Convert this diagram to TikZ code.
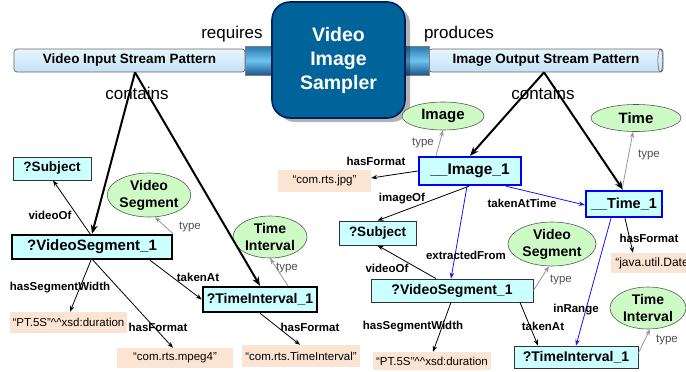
\documentclass[tikz,border=0pt]{standalone}
\usepackage{fontspec}
\setmainfont{Liberation Sans}
\usetikzlibrary{arrows.meta,shapes.geometric,shadows}

\definecolor{boxfill}{RGB}{204,255,255}
\definecolor{ellfill}{RGB}{206,250,198}
\definecolor{litfill}{RGB}{252,228,210}
\definecolor{boxblue}{RGB}{0,0,255}
\definecolor{linkblue}{RGB}{20,20,240}
\definecolor{typegray}{RGB}{150,150,150}
\definecolor{typetext}{RGB}{80,80,80}
\definecolor{blockfill}{RGB}{0,100,155}
\definecolor{blockedge}{RGB}{0,30,95}
\definecolor{bartop}{RGB}{232,245,253}
\definecolor{barbot}{RGB}{196,226,247}
\definecolor{conntop}{RGB}{40,120,175}
\definecolor{connmid}{RGB}{110,196,240}
\definecolor{connbot}{RGB}{25,90,140}

\begin{document}
\begin{tikzpicture}[x=1pt,y=-1pt,
  rbox/.style={rectangle, draw=black!80, line width=0.8pt, fill=boxfill, inner sep=0pt,
    font=\bfseries\fontsize{13.5}{15}\selectfont},
  thickbox/.style={rbox, draw=black, line width=2.4pt},
  bluebox/.style={rbox, draw=boxblue, line width=2.4pt},
  cls/.style={ellipse, draw=black!65, line width=0.6pt, fill=ellfill, inner sep=0pt,
    align=center, font=\bfseries\fontsize{14}{17}\selectfont},
  lit/.style={rectangle, fill=litfill, inner sep=0pt, font=\fontsize{11.5}{13}\selectfont},
  elab/.style={inner sep=0pt, font=\bfseries\fontsize{11.5}{13}\selectfont},
  tlab/.style={inner sep=0pt, text=typetext, font=\fontsize{11.5}{13}\selectfont},
  vlab/.style={inner sep=0pt, font=\fontsize{17}{19}\selectfont},
  barnode/.style={rectangle, draw=black!60, line width=0.7pt, rounded corners=3pt,
    top color=bartop, bottom color=barbot, inner sep=0pt,
    font=\bfseries\fontsize{13.5}{15}\selectfont},
  connnode/.style={rectangle, draw=black!50, line width=0.5pt,
    top color=conntop, bottom color=connbot, middle color=connmid, inner sep=0pt},
  arr/.style={-{Stealth[length=6pt,width=4.5pt]}, line width=0.8pt, draw=black},
  garr/.style={arr, draw=typegray},
  barr/.style={arr, draw=linkblue},
  carr/.style={-{Stealth[length=9pt,width=7pt]}, line width=2pt, draw=black}
]
\useasboundingbox (0,0) rectangle (686,372);

% stream pattern bars and their couplings
\node[barnode, minimum width=231pt, minimum height=23pt] (barL) at (129.5,60.5) {Video Input Stream Pattern};
\node[barnode, minimum width=234pt, minimum height=23pt] (barR) at (546,60.5) {Image Output Stream Pattern};
\draw[black!60, line width=0.6pt] ([xshift=-3pt]barR.east) ellipse (2.5pt and 11.5pt);
\node[connnode, minimum width=31pt, minimum height=29pt] (connL) at (260.5,60.5) {};
\node[connnode, minimum width=28pt, minimum height=29pt] (connR) at (415,60.5) {};

% the service block
\node[rectangle, rounded corners=18pt, draw=blockedge, line width=1.6pt, fill=blockfill,
  minimum width=133pt, minimum height=116pt, align=center, text=white,
  font=\bfseries\fontsize{19.5}{24}\selectfont,
  drop shadow={shadow xshift=5pt, shadow yshift=-4pt, fill=black, opacity=0.3}]
  (sampler) at (338.5,60) {Video\\Image\\Sampler};

\node[vlab] (reqLab) at (232,34) {requires};
\node[vlab] (prodLab) at (459,34) {produces};
\node[vlab] (contL) at (137,93) {contains};
\node[vlab] (contR) at (543,93) {contains};
\coordinate (apexL) at ([xshift=5.5pt]barL.south);
\coordinate (apexR) at ([xshift=-2pt]barR.south);

% input pattern graph
\node[rbox, minimum width=78pt, minimum height=23pt] (subjL) at (52,168.5) {?Subject};
\node[cls, minimum width=78pt, minimum height=44pt] (vsegL) at (149,195) {Video\\Segment};
\node[thickbox, minimum width=160pt, minimum height=24pt, font=\bfseries\fontsize{15}{17}\selectfont] (vsL) at (92,247) {?VideoSegment\_1};
\node[cls, minimum width=74pt, minimum height=42pt] (tiEllL) at (270,237) {Time\\Interval};
\node[thickbox, minimum width=114pt, minimum height=25pt, font=\bfseries\fontsize{14}{16}\selectfont] (tiL) at (260,299.5) {?TimeInterval\_1};
\node[lit, minimum width=117pt, minimum height=21pt] (ptL) at (68.5,322.5) {“PT.5S”\textasciicircum\textasciicircum xsd:duration};
\node[lit, minimum width=116pt, minimum height=20pt] (mpegL) at (175,358) {“com.rts.mpeg4”};
\node[lit, minimum width=118pt, minimum height=22pt] (tiFmtL) at (301,356) {“com.rts.TimeInterval”};

% output pattern graph
\node[cls, minimum width=82pt, minimum height=28pt, font=\bfseries\fontsize{15}{17}\selectfont] (imgEll) at (443,116) {Image};
\node[cls, minimum width=90pt, minimum height=27pt, font=\bfseries\fontsize{15}{17}\selectfont] (timeEll) at (636,118) {Time};
\node[bluebox, minimum width=102pt, minimum height=28pt, font=\bfseries\fontsize{15.5}{17}\selectfont] (img1) at (470,171) {\_\_Image\_1};
\node[bluebox, minimum width=76pt, minimum height=26pt, font=\bfseries\fontsize{14.5}{17}\selectfont] (time1) at (624,204) {\_\_Time\_1};
\node[rbox, minimum width=77pt, minimum height=24pt] (subjR) at (377.5,233) {?Subject};
\node[cls, minimum width=88pt, minimum height=44pt] (vsegR) at (552,244) {Video\\Segment};
\node[rbox, minimum width=162pt, minimum height=23pt, font=\bfseries\fontsize{14}{16}\selectfont] (vsR) at (452,290.5) {?VideoSegment\_1};
\node[cls, minimum width=76pt, minimum height=42pt] (tiEllR) at (648,308) {Time\\Interval};
\node[rbox, minimum width=124pt, minimum height=22pt, font=\bfseries\fontsize{14}{16}\selectfont] (tiR) at (576,357) {?TimeInterval\_1};
\node[lit, minimum width=93pt, minimum height=22pt] (jpgLit) at (324.5,181) {“com.rts.jpg”};
\node[lit, minimum width=86pt, minimum height=20pt, font=\fontsize{12}{13}\selectfont] (dateLit) at (654,263) {“java.util.Date”};
\node[lit, minimum width=118pt, minimum height=18pt] (ptR) at (432,361) {“PT.5S”\textasciicircum\textasciicircum xsd:duration};

% contains links
\draw[carr] (apexL) -- (vsL.north);
\draw[carr] (apexL) -- (tiL.north);
\draw[carr] (apexR) -- (img1.north);
\draw[carr] (apexR) -- ([xshift=-1pt]time1.north);

% input pattern links
\draw[arr] ([xshift=-2pt]vsL.north) -- ([xshift=1pt]subjL.south);
\draw[garr] (vsL.north east) -- ([xshift=6pt]vsegL.south);
\draw[arr] ([xshift=58pt]vsL.south) -- (tiL.west);
\draw[arr] ([xshift=-1pt]vsL.south) -- ([xshift=1.5pt]ptL.north);
\draw[arr] ([xshift=1pt]vsL.south) -- ([xshift=-2pt]mpegL.north);
\draw[garr] ([xshift=28pt]tiL.north) -- (tiEllL.south);
\draw[arr] (tiL.south) -- ([xshift=-1pt]tiFmtL.north);

\node[elab] (lVideoOfL) at (50,215) {videoOf};
\node[tlab] (lTypeL1) at (190,227) {type};
\node[elab] (lTakenAtL) at (198,277) {takenAt};
\node[elab] (lSegWL) at (60,288) {hasSegmentWidth};
\node[elab] (lFmtL) at (158,327) {hasFormat};
\node[tlab] (lTypeL2) at (287,268) {type};
\node[elab] (lFmtL2) at (310,327) {hasFormat};

% output pattern links
\draw[garr] ([xshift=-34pt]img1.north) -- (imgEll.south);
\draw[arr] (img1.west) -- ([yshift=3pt]jpgLit.east);
\draw[arr] ([xshift=-1pt]img1.south) -- (subjR.north);
\draw[barr] ([xshift=-3pt]img1.south) -- ([xshift=-1pt]vsR.north);
\draw[barr] ([xshift=36pt]img1.south) -- ([yshift=-1pt]time1.west);
\draw[garr] ([xshift=-2pt]time1.north) -- ([xshift=-3pt]timeEll.south);
\draw[arr] ([xshift=1pt]time1.south) -- ([xshift=-21pt]dateLit.north);
\draw[barr] ([xshift=-13pt]time1.south) -- (tiR.north);
\draw[arr] ([xshift=-16pt]vsR.north) -- (subjR.south);
\draw[garr] (vsR.east) -- ([xshift=-3pt]vsegR.south);
\draw[arr] ([xshift=-1pt]vsR.south) -- ([xshift=1pt]ptR.north);
\draw[arr] ([xshift=68pt]vsR.south) -- ([xshift=-38pt]tiR.north);
\draw[garr] ([yshift=4pt]tiR.east) -- ([xshift=2pt]tiEllR.south);

\node[tlab] (lTypeImg) at (423,143) {type};
\node[elab] (lFmtJpg) at (376,161) {hasFormat};
\node[elab] (lImageOf) at (402,199) {imageOf};
\node[elab] (lTakenAtTime) at (522,203) {takenAtTime};
\node[tlab] (lTypeTime) at (649,155) {type};
\node[elab] (lFmtDate) at (649,238) {hasFormat};
\node[elab] (lExtracted) at (466,255) {extractedFrom};
\node[elab] (lVideoOfR) at (387,268) {videoOf};
\node[tlab] (lTypeVsR) at (561,280) {type};
\node[elab] (lInRange) at (576,310) {inRange};
\node[elab] (lSegWR) at (413,327) {hasSegmentWidth};
\node[elab] (lTakenAtR) at (543,326) {takenAt};
\node[tlab] (lTypeTiR) at (667,340) {type};
\end{tikzpicture}
\end{document}
